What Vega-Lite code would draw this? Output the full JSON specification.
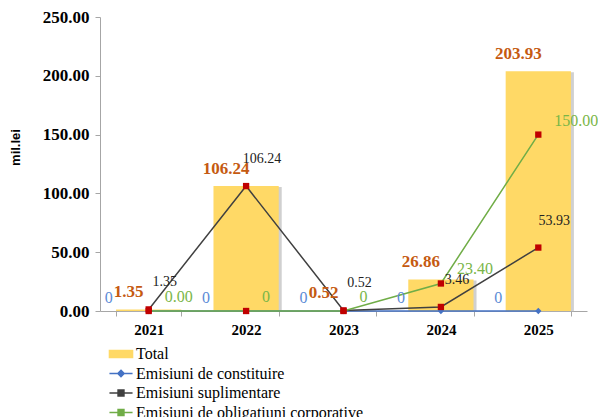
{
  "$schema": "https://vega.github.io/schema/vega-lite/v6.json",
  "autosize": {"type": "none"},
  "width": 487,
  "height": 294,
  "padding": {"left": 100, "top": 17, "right": 11, "bottom": 106},
  "background": "white",
  "title": {
    "text": "aprilie 2021-2025",
    "font": "Liberation Serif",
    "fontSize": 19,
    "fontWeight": "normal",
    "color": "#222222",
    "anchor": "middle",
    "baseline": "alphabetic",
    "offset": 12,
    "dx": -36
  },
  "data": {
    "values": [
      {"year": "2021", "series": "Total", "value": 1.35, "label": "1.35"},
      {"year": "2022", "series": "Total", "value": 106.24, "label": "106.24"},
      {"year": "2023", "series": "Total", "value": 0.52, "label": "0.52"},
      {"year": "2024", "series": "Total", "value": 26.86, "label": "26.86"},
      {"year": "2025", "series": "Total", "value": 203.93, "label": "203.93"},
      {"year": "2021", "series": "Emisiuni de constituire", "value": 0, "label": "0"},
      {"year": "2022", "series": "Emisiuni de constituire", "value": 0, "label": "0"},
      {"year": "2023", "series": "Emisiuni de constituire", "value": 0, "label": "0"},
      {"year": "2024", "series": "Emisiuni de constituire", "value": 0, "label": "0"},
      {"year": "2025", "series": "Emisiuni de constituire", "value": 0, "label": "0"},
      {"year": "2021", "series": "Emisiuni suplimentare", "value": 1.35, "label": "1.35"},
      {"year": "2022", "series": "Emisiuni suplimentare", "value": 106.24, "label": "106.24"},
      {"year": "2023", "series": "Emisiuni suplimentare", "value": 0.52, "label": "0.52"},
      {"year": "2024", "series": "Emisiuni suplimentare", "value": 3.46, "label": "3.46"},
      {"year": "2025", "series": "Emisiuni suplimentare", "value": 53.93, "label": "53.93"},
      {"year": "2021", "series": "Emisiuni de obligațiuni  corporative", "value": 0, "label": "0.00"},
      {"year": "2022", "series": "Emisiuni de obligațiuni  corporative", "value": 0, "label": "0"},
      {"year": "2023", "series": "Emisiuni de obligațiuni  corporative", "value": 0, "label": "0"},
      {"year": "2024", "series": "Emisiuni de obligațiuni  corporative", "value": 23.40, "label": "23.40"},
      {"year": "2025", "series": "Emisiuni de obligațiuni  corporative", "value": 150.00, "label": "150.00"}
    ]
  },
  "encoding": {
    "x": {
      "field": "year", "type": "nominal", "title": null,
      "scale": {"paddingInner": 0.33, "paddingOuter": 0.165},
      "axis": {
        "labelAngle": 0, "labelFont": "Liberation Serif", "labelFontSize": 15, "labelFontWeight": "bold",
        "labelColor": "#000000", "labelPadding": 6, "tickBand": "extent", "domainColor": "#a6a6a6",
        "tickColor": "#a6a6a6", "tickSize": 5, "grid": false
      }
    },
    "y": {
      "field": "value", "type": "quantitative",
      "scale": {"domain": [0, 250], "nice": false},
      "axis": {
        "title": "mil.lei", "titleFont": "Liberation Sans", "titleFontSize": 13, "titleFontWeight": "bold",
        "titleColor": "#000000", "titlePadding": 20, "titleY": 130,
        "values": [0, 50, 100, 150, 200, 250], "format": ".2f",
        "labelFont": "Liberation Serif", "labelFontSize": 17, "labelFontWeight": "bold", "labelColor": "#000000",
        "labelPadding": 6, "grid": false, "domainColor": "#a6a6a6", "tickColor": "#a6a6a6", "tickSize": 5
      }
    }
  },
  "layer": [
    {
      "transform": [{"filter": "datum.series === 'Total'"}],
      "mark": {"type": "bar", "color": "#b0b0b0", "opacity": 0.6, "xOffset": 3, "yOffset": 1},
      "encoding": {}
    },
    {
      "transform": [{"filter": "datum.series === 'Total'"}],
      "mark": {"type": "bar"},
      "encoding": {
        "color": {
          "field": "series", "type": "nominal",
          "scale": {
            "domain": ["Total", "Emisiuni de constituire", "Emisiuni suplimentare", "Emisiuni de obligațiuni  corporative"],
            "range": ["#FFD966", "#4472C4", "#404040", "#70AD47"]
          },
          "legend": {
            "title": null, "orient": "none", "legendX": 13, "legendY": 329, "direction": "vertical",
            "labelFont": "Liberation Serif", "labelFontSize": 16, "labelColor": "#000000",
            "symbolSize": 196, "rowPadding": 3.5, "labelOffset": 7, "labelLimit": 400,
            "encode": {
              "symbols": {
                "update": {
                  "shape": {"signal": "datum.value === 'Total' ? 'M-1.65,-0.5H1.65V0.5H-1.65Z' : datum.value === 'Emisiuni de constituire' ? 'M-1.65,0H1.65M0,-0.45L0.45,0L0,0.45L-0.45,0Z' : 'M-1.65,0H1.65M-0.42,-0.42H0.42V0.42H-0.42Z'"},
                  "fill": {"signal": "datum.value === 'Total' ? '#FFD966' : datum.value === 'Emisiuni de constituire' ? '#4472C4' : '#C00000'"},
                  "stroke": {"signal": "datum.value === 'Total' ? 'transparent' : datum.value === 'Emisiuni de constituire' ? '#4472C4' : datum.value === 'Emisiuni suplimentare' ? '#404040' : '#70AD47'"},
                  "strokeWidth": {"value": 1.5},
                  "opacity": {"value": 1},
                  "fillOpacity": {"value": 1}
                }
              }
            }
          }
        }
      }
    },
    {
      "transform": [{"filter": "datum.series !== 'Total'"}],
      "mark": {"type": "line", "strokeWidth": 1.5},
      "encoding": {
        "color": {"field": "series", "type": "nominal"},
        "order": {"field": "year"}
      }
    },
    {
      "transform": [{"filter": "datum.series !== 'Total'"}],
      "mark": {"type": "point", "filled": true, "size": 40, "opacity": 1},
      "encoding": {
        "shape": {"condition": {"test": "datum.series === 'Emisiuni de constituire'", "value": "diamond"}, "value": "square"},
        "fill": {"condition": {"test": "datum.series === 'Emisiuni de constituire'", "value": "#4472C4"}, "value": "#C00000"}
      }
    },
    {
      "transform": [{"filter": "datum.series === 'Emisiuni de constituire'"}],
      "mark": {"type": "text", "font": "Liberation Serif", "fontSize": 16, "color": "#5B8BD6", "dx": -40, "dy": -5, "baseline": "bottom"},
      "encoding": {"text": {"field": "label"}}
    },
    {
      "transform": [{"filter": "datum.series === 'Emisiuni suplimentare'"}],
      "mark": {"type": "text", "font": "Liberation Serif", "fontSize": 14, "color": "#222222", "dx": 16, "dy": -20, "baseline": "bottom"},
      "encoding": {"text": {"field": "label"}}
    },
    {
      "transform": [{"filter": "datum.series === 'Emisiuni de obligațiuni  corporative'"}],
      "mark": {"type": "text", "font": "Liberation Serif", "fontSize": 16, "color": "#7AB648", "align": "left", "dx": 16, "dy": -6, "baseline": "bottom"},
      "encoding": {"text": {"field": "label"}}
    },
    {
      "transform": [{"filter": "datum.series === 'Total'"}],
      "mark": {"type": "text", "font": "Liberation Serif", "fontSize": 17, "fontWeight": "bold", "color": "#C55A11", "dx": -20, "dy": -8, "baseline": "bottom"},
      "encoding": {"text": {"field": "label"}}
    }
  ],
  "config": {"view": {"stroke": null}}
}
